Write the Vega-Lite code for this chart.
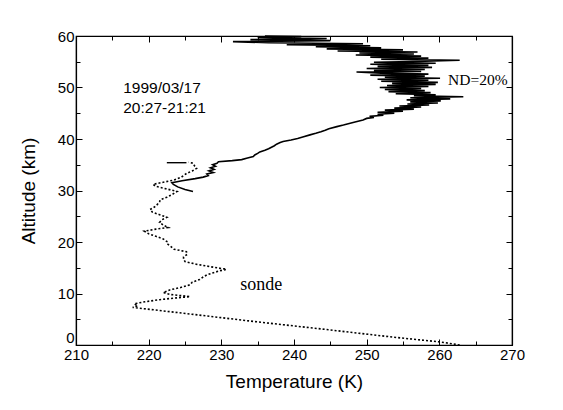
{
  "$schema": "https://vega.github.io/schema/vega-lite/v6.json",
  "autosize": "none",
  "width": 436,
  "height": 309,
  "padding": {"left": 76, "top": 36, "right": 51, "bottom": 65},
  "background": "white",
  "config": {
    "view": {"stroke": "black", "strokeWidth": 1.2},
    "font": "Liberation Sans",
    "axis": {
      "labelFont": "Liberation Sans",
      "titleFont": "Liberation Sans",
      "labelColor": "black",
      "titleColor": "black",
      "domainColor": "black",
      "tickColor": "black",
      "grid": false,
      "labelFontSize": 15,
      "titleFontSize": 19,
      "titleFontWeight": "normal"
    }
  },
  "datasets": {
    "lidar": [
      {"alt": 29.8, "T": 226.1}, {"alt": 30.2, "T": 225.0}, {"alt": 30.7, "T": 224.0}, {"alt": 31.2, "T": 223.4},
      {"alt": 31.5, "T": 223.2}, {"alt": 31.9, "T": 224.6}, {"alt": 32.3, "T": 226.4}, {"alt": 32.6, "T": 227.5},
      {"alt": 32.9, "T": 228.2}, {"alt": 33.2, "T": 228.0}, {"alt": 33.5, "T": 228.9}, {"alt": 33.8, "T": 228.3},
      {"alt": 34.1, "T": 229.0}, {"alt": 34.4, "T": 228.5}, {"alt": 34.7, "T": 229.2}, {"alt": 35.0, "T": 228.8},
      {"alt": 35.3, "T": 229.4}, {"alt": 35.6, "T": 229.6}, {"alt": 35.8, "T": 231.5}, {"alt": 36.0, "T": 232.8},
      {"alt": 36.3, "T": 233.6}, {"alt": 36.6, "T": 234.4}, {"alt": 36.9, "T": 234.6}, {"alt": 37.2, "T": 235.0},
      {"alt": 37.5, "T": 235.3}, {"alt": 37.8, "T": 236.0}, {"alt": 38.1, "T": 236.5}, {"alt": 38.4, "T": 236.9},
      {"alt": 38.7, "T": 237.3}, {"alt": 39.0, "T": 237.6}, {"alt": 39.3, "T": 238.1}, {"alt": 39.5, "T": 238.5},
      {"alt": 39.8, "T": 239.6}, {"alt": 40.1, "T": 240.5}, {"alt": 40.4, "T": 241.2}, {"alt": 40.8, "T": 242.2},
      {"alt": 41.1, "T": 243.0}, {"alt": 41.4, "T": 243.7}, {"alt": 41.7, "T": 244.3}, {"alt": 42.0, "T": 244.8},
      {"alt": 42.4, "T": 245.9}, {"alt": 42.7, "T": 246.8}, {"alt": 43.0, "T": 247.6}, {"alt": 43.3, "T": 248.4},
      {"alt": 43.7, "T": 249.5}, {"alt": 44.0, "T": 250.0}, {"alt": 44.2, "T": 251.0}, {"alt": 44.4, "T": 250.4},
      {"alt": 44.6, "T": 252.3}, {"alt": 44.8, "T": 251.5}, {"alt": 45.0, "T": 253.8}, {"alt": 45.2, "T": 251.5},
      {"alt": 45.4, "T": 255.0}, {"alt": 45.6, "T": 252.5}, {"alt": 45.8, "T": 256.5}, {"alt": 46.0, "T": 253.8},
      {"alt": 46.2, "T": 257.5}, {"alt": 46.4, "T": 254.5}, {"alt": 46.6, "T": 258.6}, {"alt": 46.8, "T": 255.6},
      {"alt": 47.0, "T": 259.8}, {"alt": 47.2, "T": 256.0}, {"alt": 47.4, "T": 260.2}, {"alt": 47.6, "T": 255.5},
      {"alt": 47.8, "T": 261.5}, {"alt": 48.0, "T": 256.0}, {"alt": 48.2, "T": 263.3}, {"alt": 48.4, "T": 256.5},
      {"alt": 48.6, "T": 259.5}, {"alt": 48.8, "T": 254.0}, {"alt": 49.0, "T": 258.8}, {"alt": 49.2, "T": 253.0},
      {"alt": 49.4, "T": 258.0}, {"alt": 49.6, "T": 252.5}, {"alt": 49.8, "T": 257.5}, {"alt": 50.0, "T": 251.8},
      {"alt": 50.2, "T": 258.5}, {"alt": 50.4, "T": 252.8}, {"alt": 50.6, "T": 259.5}, {"alt": 50.8, "T": 253.5},
      {"alt": 51.0, "T": 259.8}, {"alt": 51.2, "T": 252.0}, {"alt": 51.4, "T": 258.5}, {"alt": 51.6, "T": 251.5},
      {"alt": 51.8, "T": 260.1}, {"alt": 52.0, "T": 252.5}, {"alt": 52.2, "T": 258.0}, {"alt": 52.4, "T": 250.5},
      {"alt": 52.6, "T": 258.5}, {"alt": 52.8, "T": 252.0}, {"alt": 53.0, "T": 248.6}, {"alt": 53.1, "T": 257.5},
      {"alt": 53.3, "T": 251.0}, {"alt": 53.5, "T": 258.0}, {"alt": 53.7, "T": 250.0}, {"alt": 53.9, "T": 259.0},
      {"alt": 54.1, "T": 251.5}, {"alt": 54.3, "T": 258.5}, {"alt": 54.5, "T": 250.5}, {"alt": 54.7, "T": 259.5},
      {"alt": 54.9, "T": 251.0}, {"alt": 55.1, "T": 258.0}, {"alt": 55.3, "T": 262.8}, {"alt": 55.5, "T": 252.0},
      {"alt": 55.7, "T": 258.5}, {"alt": 55.9, "T": 250.5}, {"alt": 56.1, "T": 257.5}, {"alt": 56.3, "T": 248.5},
      {"alt": 56.5, "T": 256.5}, {"alt": 56.7, "T": 249.0}, {"alt": 56.9, "T": 257.0}, {"alt": 57.1, "T": 246.0},
      {"alt": 57.3, "T": 255.0}, {"alt": 57.5, "T": 244.5}, {"alt": 57.7, "T": 252.0}, {"alt": 57.9, "T": 243.0},
      {"alt": 58.1, "T": 250.5}, {"alt": 58.3, "T": 239.0}, {"alt": 58.5, "T": 249.5}, {"alt": 58.7, "T": 236.5},
      {"alt": 58.9, "T": 231.6}, {"alt": 59.1, "T": 245.0}, {"alt": 59.3, "T": 234.0}, {"alt": 59.5, "T": 244.5},
      {"alt": 59.7, "T": 235.0}, {"alt": 59.9, "T": 241.0}, {"alt": 60.0, "T": 236.0}
    ],
    "sonde": [
      {"alt": 0.0, "T": 262.8}, {"alt": 0.6, "T": 260.1}, {"alt": 1.5, "T": 253.8}, {"alt": 3.0, "T": 244.5},
      {"alt": 4.5, "T": 234.9}, {"alt": 6.0, "T": 225.8}, {"alt": 7.3, "T": 217.8}, {"alt": 7.6, "T": 218.5},
      {"alt": 8.0, "T": 218.0}, {"alt": 8.4, "T": 219.5}, {"alt": 8.8, "T": 221.5}, {"alt": 9.1, "T": 223.5},
      {"alt": 9.4, "T": 225.7}, {"alt": 9.8, "T": 223.0}, {"alt": 10.2, "T": 222.0}, {"alt": 10.7, "T": 222.9},
      {"alt": 11.2, "T": 224.5}, {"alt": 11.7, "T": 225.7}, {"alt": 12.2, "T": 226.0}, {"alt": 12.7, "T": 227.0},
      {"alt": 13.2, "T": 227.5}, {"alt": 13.6, "T": 228.0}, {"alt": 14.0, "T": 228.8}, {"alt": 14.4, "T": 229.8},
      {"alt": 14.7, "T": 230.7}, {"alt": 15.2, "T": 228.5}, {"alt": 15.7, "T": 226.5}, {"alt": 16.2, "T": 225.0},
      {"alt": 16.7, "T": 224.8}, {"alt": 17.1, "T": 224.8}, {"alt": 17.6, "T": 225.3}, {"alt": 18.1, "T": 225.2},
      {"alt": 18.6, "T": 223.5}, {"alt": 19.2, "T": 223.0}, {"alt": 19.7, "T": 222.5}, {"alt": 20.1, "T": 222.5},
      {"alt": 20.6, "T": 222.0}, {"alt": 21.1, "T": 221.0}, {"alt": 21.6, "T": 220.0}, {"alt": 22.1, "T": 219.4},
      {"alt": 22.5, "T": 221.0}, {"alt": 22.8, "T": 222.7}, {"alt": 23.3, "T": 222.0}, {"alt": 23.8, "T": 221.5},
      {"alt": 24.3, "T": 221.8}, {"alt": 24.8, "T": 222.5}, {"alt": 25.3, "T": 221.5}, {"alt": 25.8, "T": 220.5},
      {"alt": 26.3, "T": 220.2}, {"alt": 26.8, "T": 220.8}, {"alt": 27.3, "T": 221.2}, {"alt": 27.8, "T": 221.5},
      {"alt": 28.2, "T": 221.6}, {"alt": 28.7, "T": 222.5}, {"alt": 29.2, "T": 223.2}, {"alt": 29.8, "T": 223.9},
      {"alt": 30.3, "T": 222.5}, {"alt": 30.8, "T": 221.0}, {"alt": 31.2, "T": 220.6}, {"alt": 31.6, "T": 222.0},
      {"alt": 32.0, "T": 223.4}, {"alt": 32.6, "T": 224.5}, {"alt": 33.3, "T": 225.2}, {"alt": 33.8, "T": 226.0},
      {"alt": 34.3, "T": 226.6}, {"alt": 34.8, "T": 226.3}, {"alt": 35.3, "T": 226.1}, {"alt": 35.5, "T": 225.5}
    ],
    "sondetop": [
      {"alt": 35.4, "T": 222.5}, {"alt": 35.4, "T": 225.2}
    ],
    "labelsSans": [
      {"T": 216.5, "alt": 49.9, "text": "1999/03/17"},
      {"T": 216.5, "alt": 46.0, "text": "20:27-21:21"}
    ],
    "labelND": [
      {"T": 261.2, "alt": 51.5, "text": "ND=20%"}
    ],
    "labelSonde": [
      {"T": 232.6, "alt": 11.6, "text": "sonde"}
    ]
  },
  "resolve": {"axis": {"x": "independent", "y": "independent"}},
  "layer": [
    {
      "data": {"name": "sonde"},
      "mark": {"type": "line", "color": "black", "strokeWidth": 1.6, "strokeDash": [2, 2]},
      "encoding": {
        "x": {
          "field": "T", "type": "quantitative",
          "scale": {"domain": [210, 270], "nice": false, "zero": false},
          "axis": {
            "orient": "bottom", "title": "Temperature (K)", "values": [210, 215, 220, 225, 230, 235, 240, 245, 250, 255, 260, 265, 270],
            "labelExpr": "datum.value % 10 == 0 ? datum.label : ''",
            "tickSize": {"condition": {"test": "datum.value % 10 == 0", "value": -6}, "value": -4},
            "labelPadding": 8, "titlePadding": 8, "domainWidth": 1.2, "labelFlush": false, "labelOverlap": false
          }
        },
        "y": {
          "field": "alt", "type": "quantitative",
          "scale": {"domain": [0, 60], "nice": false},
          "axis": {
            "orient": "left", "title": "Altitude (km)", "values": [0, 5, 10, 15, 20, 25, 30, 35, 40, 45, 50, 55, 60],
            "labelExpr": "datum.value % 10 == 0 ? datum.label : ''",
            "labelOffset": {"condition": {"test": "datum.value == 0", "value": -8}, "value": 0},
            "tickSize": {"condition": {"test": "datum.value % 10 == 0", "value": -6}, "value": -4},
            "labelPadding": 8, "titlePadding": 19, "domainWidth": 1.2, "labelFlush": false, "labelOverlap": false
          }
        },
        "order": {"field": "alt", "type": "quantitative"}
      }
    },
    {
      "data": {"name": "lidar"},
      "mark": {"type": "line", "color": "black", "strokeWidth": 1.6},
      "encoding": {
        "x": {
          "field": "T", "type": "quantitative",
          "axis": {
            "orient": "top", "title": null, "labels": false, "values": [210, 215, 220, 225, 230, 235, 240, 245, 250, 255, 260, 265, 270],
            "tickSize": {"condition": {"test": "datum.value % 10 == 0", "value": -6}, "value": -4},
            "domainWidth": 1.2
          }
        },
        "y": {
          "field": "alt", "type": "quantitative",
          "axis": {
            "orient": "right", "title": null, "labels": false, "values": [0, 5, 10, 15, 20, 25, 30, 35, 40, 45, 50, 55, 60],
            "tickSize": {"condition": {"test": "datum.value % 10 == 0", "value": -6}, "value": -4},
            "domainWidth": 1.2
          }
        },
        "order": {"field": "alt", "type": "quantitative"}
      }
    },
    {
      "data": {"name": "sondetop"},
      "mark": {"type": "line", "color": "black", "strokeWidth": 1.4},
      "encoding": {
        "x": {"field": "T", "type": "quantitative", "axis": null},
        "y": {"field": "alt", "type": "quantitative", "axis": null}
      }
    },
    {
      "data": {"name": "labelsSans"},
      "mark": {"type": "text", "font": "Liberation Sans", "fontSize": 15.5, "align": "left", "baseline": "middle", "color": "black"},
      "encoding": {
        "x": {"field": "T", "type": "quantitative", "axis": null},
        "y": {"field": "alt", "type": "quantitative", "axis": null},
        "text": {"field": "text"}
      }
    },
    {
      "data": {"name": "labelND"},
      "mark": {"type": "text", "font": "Liberation Serif", "fontSize": 15.5, "align": "left", "baseline": "middle", "color": "black"},
      "encoding": {
        "x": {"field": "T", "type": "quantitative", "axis": null},
        "y": {"field": "alt", "type": "quantitative", "axis": null},
        "text": {"field": "text"}
      }
    },
    {
      "data": {"name": "labelSonde"},
      "mark": {"type": "text", "font": "Liberation Serif", "fontSize": 18, "align": "left", "baseline": "middle", "color": "black"},
      "encoding": {
        "x": {"field": "T", "type": "quantitative", "axis": null},
        "y": {"field": "alt", "type": "quantitative", "axis": null},
        "text": {"field": "text"}
      }
    }
  ]
}
